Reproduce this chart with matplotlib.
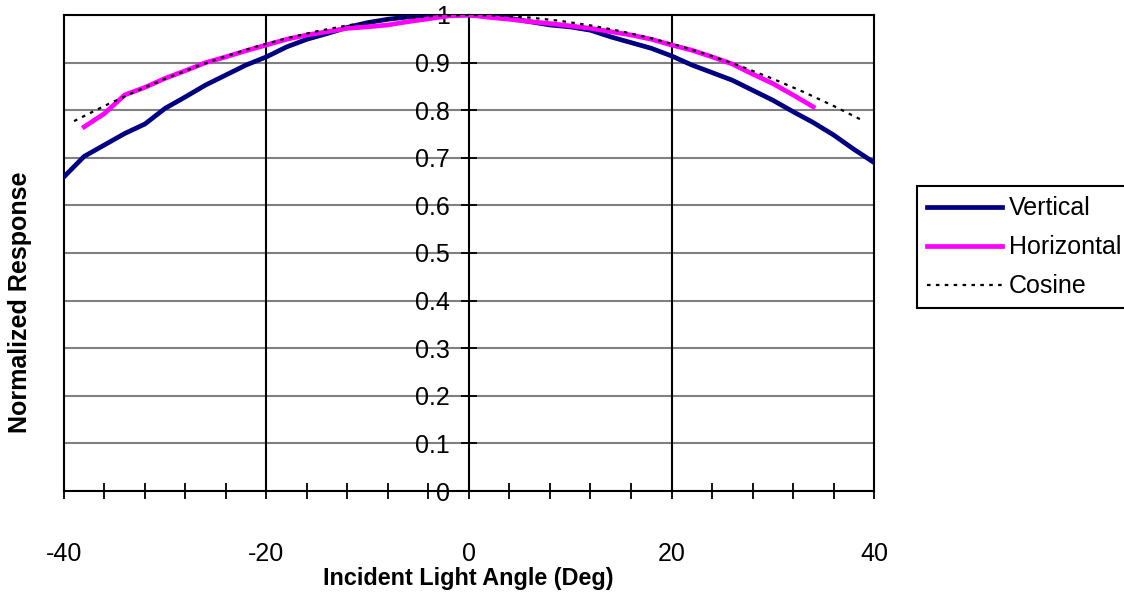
import matplotlib
matplotlib.use("Agg")
from matplotlib import pyplot as plt

plt.rcParams["font.family"] = ["Liberation Sans", "DejaVu Sans"]
plt.rcParams["axes.unicode_minus"] = False

vertical_angle = list(range(-40, 41, 2))
vertical = [0.660, 0.703, 0.727, 0.751, 0.771, 0.804, 0.828, 0.853, 0.874, 0.895,
            0.912, 0.933, 0.949, 0.961, 0.974, 0.984, 0.991, 0.996, 0.998, 1.000,
            1.000, 0.997, 0.993, 0.986, 0.979, 0.975, 0.968, 0.954, 0.942, 0.930,
            0.914, 0.895, 0.879, 0.863, 0.842, 0.821, 0.797, 0.774, 0.748, 0.718,
            0.690]

horizontal_angle = list(range(-38, 35, 2))
horizontal = [0.765, 0.793, 0.832, 0.848, 0.867, 0.883, 0.900, 0.912, 0.925, 0.937,
              0.949, 0.958, 0.965, 0.972, 0.975, 0.979, 0.986, 0.992, 0.998, 1.000,
              0.995, 0.991, 0.986, 0.982, 0.977, 0.972, 0.965, 0.958, 0.949, 0.937,
              0.926, 0.912, 0.897, 0.876, 0.856, 0.832, 0.807]

cosine_angle = list(range(-39, 40, 3))
cosine = [0.7771, 0.8090, 0.8387, 0.8660, 0.8910, 0.9135, 0.9336, 0.9511, 0.9659,
          0.9781, 0.9877, 0.9945, 0.9986, 1.0000, 0.9986, 0.9945, 0.9877, 0.9781,
          0.9659, 0.9511, 0.9336, 0.9135, 0.8910, 0.8660, 0.8387, 0.8090, 0.7771]

y_ticks = [round(0.1 * i, 1) for i in range(11)]
y_labels = ["0", "0.1", "0.2", "0.3", "0.4", "0.5", "0.6", "0.7", "0.8", "0.9", "1"]
x_ticks = [-40, -20, 0, 20, 40]

fig = plt.figure(figsize=(11.24, 5.92), dpi=100)
ax = fig.add_axes([0.0569, 0.1706, 0.7207, 0.8041])

ax.plot(vertical_angle, vertical, color="#000080", lw=3.4, label="Vertical", zorder=3)
ax.plot(horizontal_angle, horizontal, color="#FF00FF", lw=3.4, label="Horizontal", zorder=4)
ax.plot(cosine_angle, cosine, color="black", lw=1.6, ls=(0, (1.6, 2.4)), label="Cosine", zorder=5)

ax.set_xlim(-40, 40)
ax.set_ylim(0, 1)

ax.spines["left"].set_position(("data", 0))
for s in ["top", "right", "bottom", "left"]:
    ax.spines[s].set_linewidth(1.5)
    ax.spines[s].set_color("black")
for xv in [-40, -20, 20]:
    ax.axvline(xv, color="black", lw=1.5, zorder=1, clip_on=False)

ax.set_yticks(y_ticks)
ax.set_yticklabels(y_labels)
ax.yaxis.grid(True, color="#808080", lw=1.5)
ax.set_axisbelow(True)

ax.set_xticks(x_ticks)
ax.set_xticks(list(range(-36, 40, 4)), minor=True)
ax.tick_params(axis="x", which="both", direction="inout", length=11, width=1.3,
               labelsize=18, pad=31)
ax.tick_params(axis="y", direction="inout", length=11, width=1.3, labelsize=18, pad=8)

fig.text(0.417, 0.022, "Incident Light Angle (Deg)", fontsize=16.8, fontweight="bold",
         ha="center", va="center")
fig.text(0.018, 0.49, "Normalized Response", rotation=90, fontsize=18,
         fontweight="bold", ha="center", va="center")

leg = fig.legend(loc="upper left", bbox_to_anchor=(0.8155, 0.685), fontsize=18,
                 frameon=True, fancybox=False, edgecolor="black", framealpha=1,
                 handlelength=3.0, handletextpad=0.3, labelspacing=0.6,
                 borderpad=0.4, borderaxespad=0)
leg.get_frame().set_linewidth(1.5)

fig.savefig("out.png", dpi=100)
plt.close(fig)
